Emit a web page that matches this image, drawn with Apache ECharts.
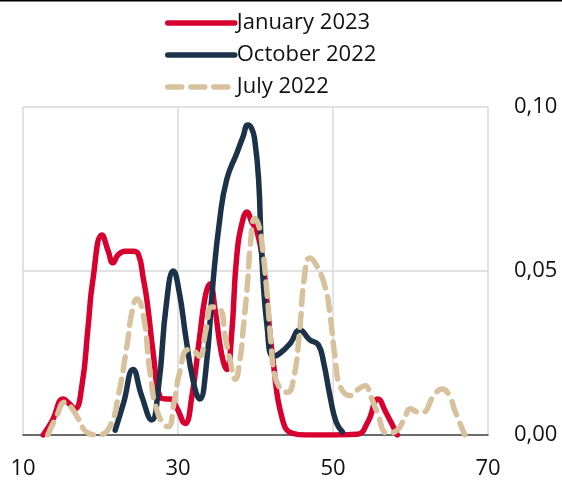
<!DOCTYPE html>
<html><head><meta charset="utf-8">
<script src="https://cdn.jsdelivr.net/npm/echarts@6/dist/echarts.min.js"></script>
<style>html,body{margin:0;padding:0;background:#fff}#c{width:562px;height:484px}</style>
</head><body><div id="c"></div>
<script>
var seriesNames = ['January 2023', 'October 2022', 'July 2022'];
var xTicks = [10, 30, 50, 70];
var yTickLabels = ['0,00', '0,05', '0,10'];

var jan2023 = [
  [12.6,0.0000],[13.8,0.0045],[15.2,0.0110],[16.0,0.0095],[16.7,0.0080],[17.6,0.0150],[18.4,0.0330],
  [19.0,0.0470],[20.2,0.0610],[21.0,0.0560],[21.6,0.0525],[22.3,0.0550],[23.2,0.0560],[24.2,0.0560],
  [24.9,0.0550],[25.5,0.0480],[26.0,0.0410],[26.8,0.0250],[27.7,0.0115],[28.4,0.0110],[29.0,0.0110],
  [29.8,0.0085],[30.9,0.0035],[31.8,0.0120],[32.8,0.0300],[33.5,0.0420],[34.1,0.0460],[34.8,0.0380],
  [35.6,0.0250],[36.3,0.0200],[36.9,0.0300],[37.6,0.0550],[38.4,0.0660],[38.9,0.0680],[39.5,0.0650],
  [40.2,0.0620],[41.0,0.0520],[41.5,0.0400],[42.3,0.0220],[43.5,0.0045],[44.8,0.0005],[46.5,0.0000],
  [50.0,0.0000],[53.1,0.0002],[54.5,0.0040],[55.8,0.0110],[56.8,0.0070],[58.3,0.0000]
];
var oct2022 = [
  [21.9,0.0015],[23.0,0.0100],[24.2,0.0200],[25.3,0.0120],[26.6,0.0046],[27.5,0.0150],[28.5,0.0400],
  [29.4,0.0500],[30.2,0.0430],[31.0,0.0300],[32.0,0.0160],[32.8,0.0110],[33.6,0.0200],[34.5,0.0460],
  [35.4,0.0660],[36.3,0.0780],[37.6,0.0860],[38.4,0.0910],[39.0,0.0945],[39.5,0.0935],[39.9,0.0900],
  [40.4,0.0780],[40.8,0.0550],[41.5,0.0330],[42.3,0.0240],[43.2,0.0250],[44.5,0.0280],[45.7,0.0320],
  [47.0,0.0290],[48.1,0.0275],[48.8,0.0220],[49.6,0.0120],[50.4,0.0040],[51.2,0.0010]
];
var jul2022 = [
  [13.2,0.0000],[14.3,0.0055],[15.4,0.0100],[16.2,0.0085],[17.0,0.0055],[18.4,0.0006],[19.7,0.0000],
  [21.2,0.0025],[22.3,0.0120],[23.4,0.0270],[24.1,0.0380],[24.7,0.0415],[25.5,0.0370],[26.4,0.0190],
  [27.4,0.0066],[28.7,0.0025],[29.5,0.0100],[30.2,0.0190],[31.3,0.0260],[32.1,0.0255],[32.8,0.0240],
  [33.6,0.0320],[34.4,0.0390],[35.4,0.0385],[36.1,0.0300],[36.7,0.0230],[37.4,0.0170],[38.0,0.0230],
  [38.4,0.0320],[39.0,0.0470],[39.3,0.0570],[39.9,0.0660],[40.4,0.0640],[40.8,0.0590],[41.5,0.0430],
  [42.0,0.0280],[42.5,0.0180],[43.3,0.0140],[44.1,0.0130],[44.9,0.0170],[45.7,0.0320],[46.3,0.0480],
  [47.0,0.0540],[47.8,0.0520],[49.0,0.0450],[49.6,0.0370],[50.3,0.0230],[50.9,0.0150],[52.2,0.0120],
  [53.3,0.0140],[54.1,0.0150],[55.0,0.0110],[55.7,0.0070],[57.0,0.0006],[58.3,0.0015],[59.2,0.0050],
  [60.0,0.0080],[61.0,0.0070],[61.6,0.0070],[63.0,0.0120],[64.1,0.0140],[65.0,0.0120],[65.7,0.0076],
  [67.0,0.0000]
];

var colors = ['#d7002f', '#1b3249', '#d8c29d'];
var font = 'Open Sans';
var chart = echarts.init(document.getElementById('c'), null, {renderer: 'canvas'});
function mk(name, data, color, dashed) {
  return {
    name: name, type: 'line', data: data, smooth: 0.5, showSymbol: false, symbol: 'none',
    lineStyle: {color: color, width: 5.5, type: dashed ? [14, 9] : 'solid', cap: 'round', join: 'round'},
    itemStyle: {color: color}, animation: false
  };
}
chart.setOption({
  animation: false,
  color: colors,
  graphic: [{type: 'rect', left: 0, top: 0, shape: {width: 562, height: 1.5}, style: {fill: '#000'}}],
  legend: {
    orient: 'vertical', left: 160, top: 7, itemGap: 10, itemWidth: 67, itemHeight: 22,
    lineStyle: {width: 5.5, cap: 'round'},
    itemStyle: {opacity: 0},
    textStyle: {fontFamily: font, fontSize: 22, color: '#111', padding: [0, 0, 0, -3]},
    data: seriesNames.map(function(n){return {name: n};})
  },
  grid: {left: 23, right: 74, top: 107, bottom: 49},
  xAxis: {
    type: 'value', min: xTicks[0], max: xTicks[xTicks.length-1], interval: 20,
    axisLine: {show: true, lineStyle: {color: '#444', width: 1.5}},
    axisTick: {show: false},
    axisLabel: {fontFamily: font, fontSize: 22, color: '#111', margin: 23},
    splitLine: {show: true, lineStyle: {color: '#d9d9d9', width: 1.5}}
  },
  yAxis: {
    type: 'value', position: 'right', min: 0, max: 0.1, interval: 0.05,
    axisLine: {show: false}, axisTick: {show: false},
    axisLabel: {fontFamily: font, fontSize: 22, color: '#111', margin: 26,
      formatter: function(v){ return yTickLabels[Math.round(v/0.05)]; }},
    splitLine: {show: true, lineStyle: {color: '#d9d9d9', width: 1.5}}
  },
  series: [
    mk(seriesNames[0], jan2023, colors[0], false),
    mk(seriesNames[1], oct2022, colors[1], false),
    mk(seriesNames[2], jul2022, colors[2], true)
  ]
});
</script></body></html>
